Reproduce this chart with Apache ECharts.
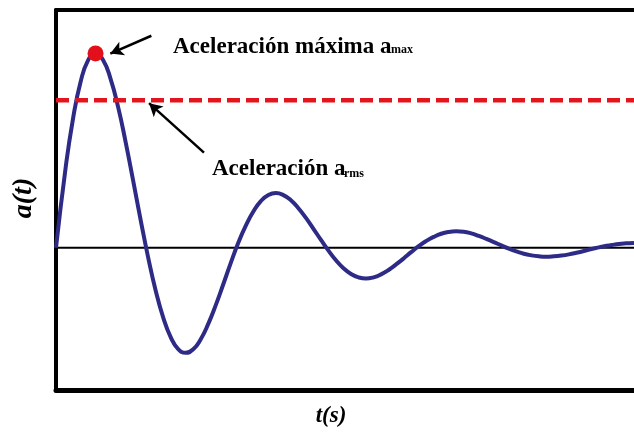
<!DOCTYPE html>
<html>
<head>
<meta charset="utf-8">
<script src="https://cdn.jsdelivr.net/npm/echarts@6/dist/echarts.min.js"></script>
<style>
html,body{margin:0;padding:0;background:#fff;}
#chart{width:634px;height:432px;}
</style>
</head>
<body>
<div id="chart"></div>
<script>
// time (s) samples along the curve
var timeValues = [0,0.164,0.294,0.424,0.554,0.684,0.814,0.944,1.074,1.204,1.334,1.464,1.594,1.724,1.854,1.984,
  2.114,2.244,2.374,2.504,2.634,2.764,2.894,3.024,3.154,3.284,3.414,3.544,3.674,3.804,3.934,4.064,4.194,
  4.324,4.454,4.584,4.714,4.844,4.974,5.104,5.234,5.364,5.494,5.624,5.754,5.884,6.014,6.144,6.274,6.404,
  6.534,6.664,6.794,6.924,7.054,7.184,7.314,7.444,7.574,7.704,7.834,7.964,8.094,8.224,8.354,8.484,8.614,
  8.744,8.874,9.004,9.134,9.264,9.394,9.524,9.654,9.784,9.914,10.0];
// acceleration a(t)
var accelValues = [0,0.398,0.651,0.835,0.946,0.981,0.948,0.853,0.711,0.535,0.340,0.141,-0.048,-0.215,-0.351,-0.451,
  -0.511,-0.530,-0.512,-0.461,-0.384,-0.289,-0.184,-0.076,0.026,0.112,0.183,0.236,0.266,0.276,0.266,0.240,0.200,
  0.151,0.096,0.040,-0.014,-0.063,-0.103,-0.132,-0.149,-0.155,-0.149,-0.134,-0.112,-0.084,-0.054,-0.022,0.008,0.034,
  0.055,0.071,0.080,0.083,0.081,0.073,0.060,0.045,0.029,0.012,-0.004,-0.018,-0.030,-0.038,-0.043,-0.045,-0.043,
  -0.039,-0.033,-0.025,-0.016,-0.006,0.002,0.010,0.016,0.021,0.023,0.024];
var peakPoint = [0.684, 0.981];
var rmsLevel = 0.745;
var tRange = [0, 10];
var aRange = [-0.72, 1.2];
// annotation arrows: [tail, head] in data units
var arrowMax = [[1.65, 1.07], [0.94, 0.98]];
var arrowRms = [[2.56, 0.48], [1.61, 0.73]];
var labelMax = 'Aceleración máxima a';
var labelMaxSub = 'max';
var labelRms = 'Aceleración a';
var labelRmsSub = 'rms';
var yName = 'a(t)';
var xName = 't(s)';

var curve = timeValues.map(function(t, i){ return [t, accelValues[i]]; });

var chart = echarts.init(document.getElementById('chart'), null, {renderer:'canvas'});
var serif = '"Liberation Serif", "DejaVu Serif", serif';
var option = {
  animation: false,
  backgroundColor: '#ffffff',
  grid: {left: 56, right: 0, top: 10, bottom: 41.5},
  xAxis: [{
    type: 'value', min: tRange[0], max: tRange[1], position: 'bottom',
    axisLine: {onZero: false, lineStyle: {color: '#000', width: 5}},
    axisTick: {show: false}, axisLabel: {show: false}, splitLine: {show: false}
  }, {
    type: 'value', min: tRange[0], max: tRange[1], position: 'top',
    axisLine: {onZero: false, lineStyle: {color: '#000', width: 4}},
    axisTick: {show: false}, axisLabel: {show: false}, splitLine: {show: false}
  }],
  yAxis: {
    type: 'value', min: aRange[0], max: aRange[1],
    axisLine: {show: true, onZero: false, lineStyle: {color: '#000', width: 4}},
    axisTick: {show: false}, axisLabel: {show: false}, splitLine: {show: false}
  },
  series: [{
    name: 'zero', type: 'line', z: 1, symbol: 'none', silent: true,
    data: [[tRange[0], 0], [tRange[1], 0]],
    lineStyle: {color: '#000', width: 2}
  }, {
    name: 'a(t)', type: 'line', z: 2, symbol: 'none', smooth: 0.5,
    data: curve,
    lineStyle: {color: '#2e2b87', width: 4}
  }, {
    name: 'rms', type: 'line', z: 3, symbol: 'none',
    data: [[tRange[0], rmsLevel], [tRange[1], rmsLevel]],
    lineStyle: {color: '#e3141c', width: 4.5, type: [13, 6]}
  }, {
    name: 'max', type: 'scatter', z: 4,
    data: [peakPoint], symbolSize: 16,
    itemStyle: {color: '#e3101c', opacity: 1},
    markLine: {
      silent: true, symbol: ['none', 'arrow'], symbolSize: [11, 13],
      label: {show: false},
      lineStyle: {color: '#000', width: 2.5, type: 'solid'},
      data: [
        [{coord: arrowMax[0]}, {coord: arrowMax[1]}],
        [{coord: arrowRms[0]}, {coord: arrowRms[1]}]
      ]
    }
  }],
  graphic: [
    {type: 'text', x: 173, y: 36, style: {text: labelMax, font: 'bold 23px ' + serif, fill: '#000', verticalAlign: 'alphabetic'}},
    {type: 'text', x: 391, y: 43.5, style: {text: labelMaxSub, font: 'bold 12px ' + serif, fill: '#000', verticalAlign: 'alphabetic'}},
    {type: 'text', x: 212, y: 158, style: {text: labelRms, font: 'bold 23px ' + serif, fill: '#000', verticalAlign: 'alphabetic'}},
    {type: 'text', x: 344, y: 168, style: {text: labelRmsSub, font: 'bold 12px ' + serif, fill: '#000', verticalAlign: 'alphabetic'}},
    {type: 'text', x: 24, y: 198, rotation: Math.PI / 2, style: {text: yName, font: 'italic bold 28px ' + serif, fill: '#000', align: 'center', verticalAlign: 'middle'}},
    {type: 'text', x: 331, y: 416, style: {text: xName, font: 'italic bold 23px ' + serif, fill: '#000', align: 'center', verticalAlign: 'middle'}}
  ]
};
chart.setOption(option);
</script>
</body>
</html>
